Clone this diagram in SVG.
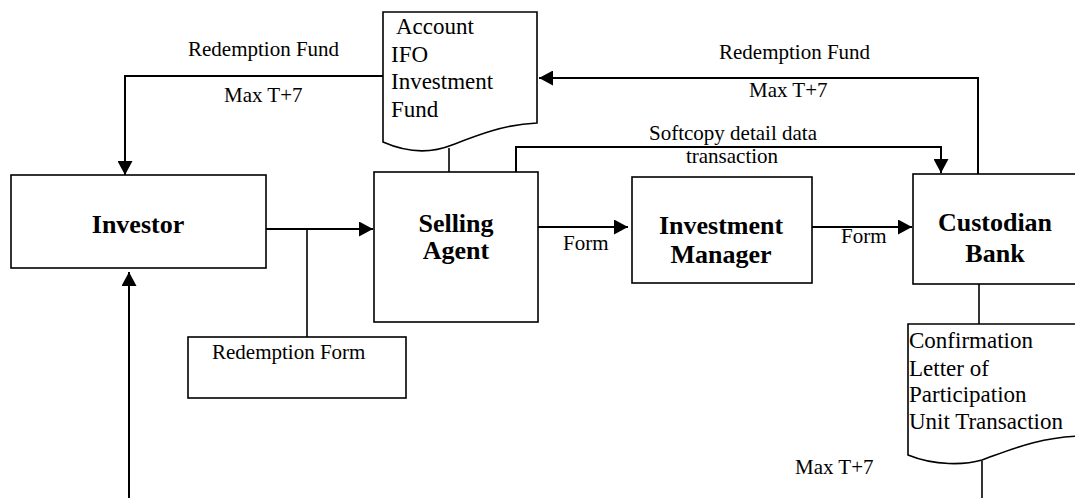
<svg xmlns="http://www.w3.org/2000/svg" width="1075" height="498" viewBox="0 0 1075 498">
  <defs>
    <marker id="arrow" markerUnits="userSpaceOnUse" markerWidth="14" markerHeight="15" refX="14" refY="7.5" orient="auto">
      <path d="M0,0 L14,7.5 L0,15 Z" fill="#000"/>
    </marker>
    <style>
      .box { fill: #fff; stroke: #000; stroke-width: 1.6; }
      .doc { fill: #fff; stroke: #000; stroke-width: 1.6; }
      .conn { fill: none; stroke: #000; stroke-width: 2; }
      .thin { fill: none; stroke: #000; stroke-width: 1.6; }
      .title { font-family: "Liberation Serif", "Times New Roman", serif; font-weight: bold; font-size: 26px; fill: #000; text-anchor: middle; }
      .doctext { font-family: "Liberation Serif", "Times New Roman", serif; font-size: 23px; fill: #000; }
      .label { font-family: "Liberation Serif", "Times New Roman", serif; font-size: 21px; fill: #000; }
    </style>
  </defs>
  <rect width="1075" height="498" fill="#fff"/>

  <!-- connectors -->
  <g id="connectors">
    <!-- redemption fund returned to the investor -->
    <polyline class="conn" points="383,76 125,76 125,175" marker-end="url(#arrow)"/>
    <!-- custodian pays redemption fund back via the account -->
    <polyline class="conn" points="978,174 978,78 539,78" marker-end="url(#arrow)"/>
    <!-- investor hands redemption form to selling agent -->
    <line class="conn" x1="266" y1="229" x2="373" y2="229" marker-end="url(#arrow)"/>
    <line class="thin" x1="307" y1="229" x2="307" y2="337"/>
    <!-- form flow -->
    <line class="conn" x1="538" y1="227" x2="628" y2="227" marker-end="url(#arrow)"/>
    <line class="conn" x1="812" y1="227" x2="912" y2="227" marker-end="url(#arrow)"/>
    <!-- softcopy detail data -->
    <polyline class="conn" points="516,172 516,147 941,147 941,173" marker-end="url(#arrow)"/>
    <!-- account document to selling agent -->
    <line class="thin" x1="449" y1="148" x2="449" y2="172"/>
    <!-- custodian to confirmation document -->
    <line class="thin" x1="979" y1="284" x2="979" y2="324"/>
    <line class="thin" x1="982" y1="461" x2="982" y2="498"/>
    <!-- confirmation back to the investor -->
    <line class="conn" x1="129" y1="498" x2="129" y2="272" marker-end="url(#arrow)"/>
  </g>

  <!-- connector labels -->
  <g id="labels">
    <text class="label" x="188" y="56">Redemption Fund</text>
    <text class="label" x="224" y="102">Max T+7</text>
    <text class="label" x="719" y="59">Redemption Fund</text>
    <text class="label" x="749" y="97">Max T+7</text>
    <text class="label" x="733" y="140" text-anchor="middle">Softcopy detail data</text>
    <text class="label" x="732" y="163" text-anchor="middle">transaction</text>
    <text class="label" x="563" y="250">Form</text>
    <text class="label" x="841" y="243">Form</text>
    <text class="label" x="795" y="474">Max T+7</text>
  </g>

  <g id="investor">
    <rect class="box" x="11" y="175" width="255" height="93"/>
    <text class="title" x="138" y="233">Investor</text>
  </g>

  <g id="selling-agent">
    <rect class="box" x="374" y="172" width="164" height="150"/>
    <text class="title" x="456" y="232">Selling</text>
    <text class="title" x="456" y="259">Agent</text>
  </g>

  <g id="investment-manager">
    <rect class="box" x="632" y="177" width="180" height="106"/>
    <text class="title" x="721" y="234">Investment</text>
    <text class="title" x="721" y="263">Manager</text>
  </g>

  <g id="custodian-bank">
    <rect class="box" x="913" y="174" width="170" height="110"/>
    <text class="title" x="995" y="231">Custodian</text>
    <text class="title" x="995" y="262">Bank</text>
  </g>

  <g id="redemption-form">
    <rect class="box" x="188" y="337" width="218" height="61"/>
    <text class="label" x="212" y="359">Redemption Form</text>
  </g>

  <g id="account-document">
    <path class="doc" d="M383,12 H537 V123 C505,124 475,136 452,145 C432,153 408,153 383,142 Z"/>
    <text class="doctext" x="396" y="34">Account</text>
    <text class="doctext" x="391" y="62">IFO</text>
    <text class="doctext" x="391" y="89">Investment</text>
    <text class="doctext" x="391" y="117">Fund</text>
  </g>

  <g id="confirmation-document">
    <path class="doc" d="M908,324 H1085 V436 C1040,436 1005,452 982,460 C965,465 935,466 908,455 Z"/>
    <text class="doctext" x="909" y="348">Confirmation</text>
    <text class="doctext" x="909" y="376">Letter of</text>
    <text class="doctext" x="909" y="402">Participation</text>
    <text class="doctext" x="909" y="429">Unit Transaction</text>
  </g>
</svg>
